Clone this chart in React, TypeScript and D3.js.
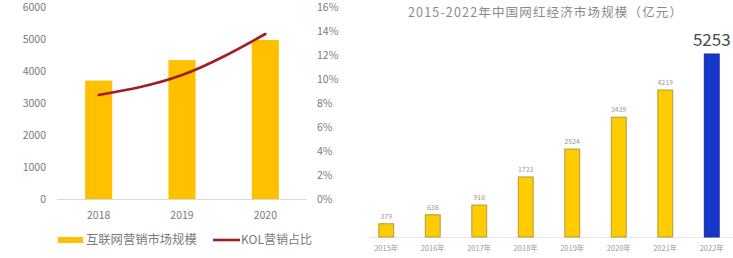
import React from "react";
import * as d3 from "d3";

const leftYears = ["2018", "2019", "2020"];
const marketSize = [3700, 4340, 4970];
const kolShare = [0.0867, 0.1033, 0.1375];
const leftTicks = [0, 1000, 2000, 3000, 4000, 5000, 6000];
const rightTicks = [0, 0.02, 0.04, 0.06, 0.08, 0.1, 0.12, 0.14, 0.16];

const rightYears = ["2015年", "2016年", "2017年", "2018年", "2019年", "2020年", "2021年", "2022年"];
const influencerValues = [379, 638, 916, 1723, 2524, 3439, 4219, 5253];

const FONT = "'Noto Sans CJK SC', 'Noto Sans', sans-serif";

export default function App() {
  // Left chart scales
  const xL = d3.scaleBand().domain(leftYears).range([57, 307]).paddingInner(0.675).paddingOuter(0.3375);
  const yL = d3.scaleLinear().domain([0, 6000]).range([199, 7]);
  const yR = d3.scaleLinear().domain([0, 0.16]).range([199, 7]);
  const line = d3
    .line<number>()
    .x((_, i) => (xL(leftYears[i]) as number) + xL.bandwidth() / 2)
    .y((d) => yR(d))
    .curve(d3.curveMonotoneX);

  // Right chart scales
  const xB = d3.scaleBand().domain(rightYears).range([363, 735]).paddingInner(0.68).paddingOuter(0.34);
  const yB = d3.scaleLinear().domain([0, 5253]).range([237, 54]);

  return (
    <svg width={733} height={258} style={{ position: "absolute", left: 0, top: 0, background: "#fff" }} fontFamily={FONT}>
      {/* Left chart */}
      {leftTicks.map((t) => (
        <text key={"lt" + t} x={46} y={yL(t)} dy="0.35em" textAnchor="end" fontSize={10.5} fill="#7a7a7a">
          {t}
        </text>
      ))}
      {rightTicks.map((t) => (
        <text key={"rt" + t} x={317} y={yR(t)} dy="0.35em" textAnchor="start" fontSize={10.5} fill="#7a7a7a">
          {d3.format(".0%")(t)}
        </text>
      ))}
      {marketSize.map((v, i) => (
        <rect
          key={"lb" + i}
          x={xL(leftYears[i])}
          y={yL(v)}
          width={xL.bandwidth()}
          height={yL(0) - yL(v)}
          fill="#FFC000"
        />
      ))}
      <line x1={57} x2={307} y1={199.5} y2={199.5} stroke="#d9d9d9" strokeWidth={1} />
      <path d={line(kolShare) || ""} fill="none" stroke="#A01E24" strokeWidth={2.6} strokeLinecap="round" />
      {leftYears.map((y) => (
        <text key={"lx" + y} x={(xL(y) as number) + xL.bandwidth() / 2} y={215} dy="0.35em" textAnchor="middle" fontSize={10.5} fill="#7a7a7a">
          {y}
        </text>
      ))}
      {/* Legend */}
      <rect x={58} y={237} width={25} height={6} fill="#FFC000" />
      <text x={86} y={240} dy="0.35em" fontSize={12.3} fill="#7a7a7a">
        互联网营销市场规模
      </text>
      <line x1={213} x2={240} y1={240} y2={240} stroke="#A01E24" strokeWidth={2.6} />
      <text x={241} y={240} dy="0.35em" fontSize={12} fill="#7a7a7a">
        KOL营销占比
      </text>

      {/* Right chart */}
      <text x={408} y={13} dy="0.35em" textAnchor="start" fontSize={12.5} fill="#8a8a8a" textLength={274} lengthAdjust="spacing">
        2015-2022年中国网红经济市场规模（亿元）
      </text>
      <line x1={370} x2={733} y1={237.5} y2={237.5} stroke="#e6e6e6" strokeWidth={1} />
      {influencerValues.map((v, i) => {
        const last = i === influencerValues.length - 1;
        return (
          <rect
            key={"rb" + i}
            x={xB(rightYears[i])}
            y={yB(v)}
            width={xB.bandwidth()}
            height={yB(0) - yB(v)}
            fill={last ? "#1535C8" : "#FFCC00"}
            stroke={last ? "#1a2f9a" : "#b39a3a"}
            strokeWidth={1}
          />
        );
      })}
      {influencerValues.map((v, i) => {
        const last = i === influencerValues.length - 1;
        const cx = (xB(rightYears[i]) as number) + xB.bandwidth() / 2;
        return (
          <text
            key={"rv" + i}
            x={cx}
            y={yB(v) - (last ? 8 : 5)}
            textAnchor="middle"
            fontSize={last ? 17 : 7}
            fill={last ? "#4a4a4a" : "#999"}
          >
            {v}
          </text>
        );
      })}
      {rightYears.map((y) => (
        <text key={"rx" + y} x={(xB(y) as number) + xB.bandwidth() / 2} y={248} dy="0.35em" textAnchor="middle" fontSize={7.5} fill="#9a9a9a">
          {y}
        </text>
      ))}
    </svg>
  );
}
